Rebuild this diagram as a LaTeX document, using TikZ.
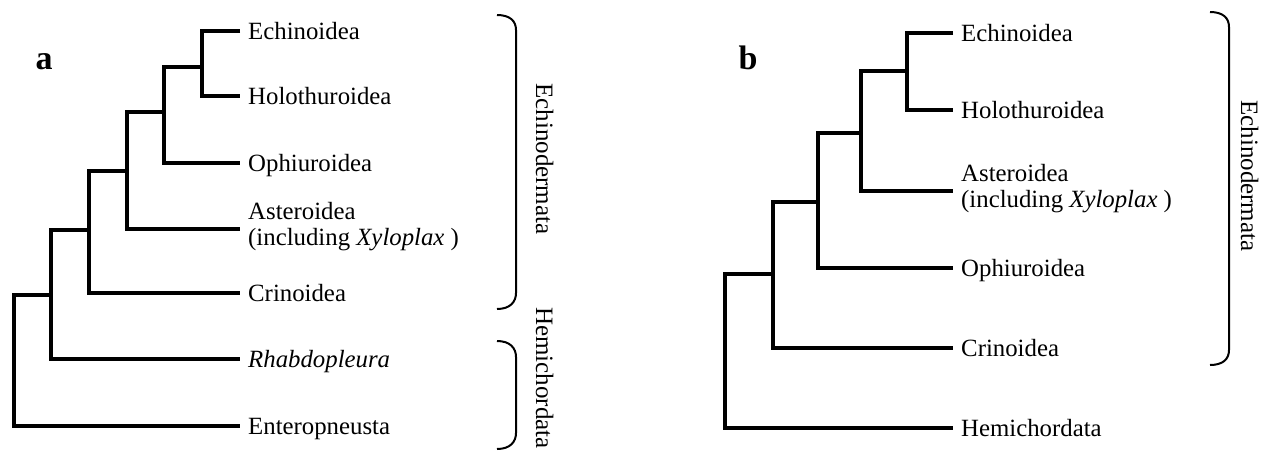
\documentclass[tikz,border=0pt]{standalone}
\usepackage{fontspec}
\setmainfont{Liberation Serif}
\begin{document}
\begin{tikzpicture}[x=1pt,y=-1pt,
  branch/.style={line width=4.5pt, line join=miter, line cap=butt},
  taxon/.style={anchor=base west, inner sep=0pt, align=left,
    font=\fontsize{24.8}{25.5}\selectfont, xshift=8pt, yshift=-8pt},
  panel/.style={inner sep=0pt, font=\fontsize{34}{34}\selectfont\bfseries},
  bracket/.style={line width=2pt},
  clade/.style={rotate=-90, anchor=base west, inner sep=0pt,
    font=\fontsize{25}{25}\selectfont}]
\useasboundingbox (0,0) rectangle (1266,464);

% ---------------- tree a ----------------
\coordinate (aR) at (14,360);
\coordinate (a2) at (51,295);
\coordinate (a3) at (89,230);
\coordinate (a4) at (127,171);
\coordinate (a5) at (164,112);
\coordinate (a6) at (202,67);
\coordinate (aEc) at (240,31);
\coordinate (aHo) at (240,96);
\coordinate (aOp) at (240,163);
\coordinate (aAs) at (240,229);
\coordinate (aCr) at (240,293);
\coordinate (aRh) at (240,359);
\coordinate (aEn) at (240,426);

\draw[branch] (aEc) -| (a6) |- (aHo);
\draw[branch] (a6) -| (a5) |- (aOp);
\draw[branch] (a5) -| (a4) |- (aAs);
\draw[branch] (a4) -| (a3) |- (aCr);
\draw[branch] (a3) -| (a2) |- (aRh);
\draw[branch] (a2) -| (aR) |- (aEn);

\node[taxon] (laEc) at (aEc) {Echinoidea};
\node[taxon] (laHo) at (aHo) {Holothuroidea};
\node[taxon] (laOp) at (aOp) {Ophiuroidea};
% the base of a two-line node is the baseline of its last line
\node[taxon, yshift=-8pt] (laAs) at (aAs) {Asteroidea\\(including \textit{Xyloplax} )};
\node[taxon] (laCr) at (aCr) {Crinoidea};
\node[taxon] (laRh) at (aRh) {\textit{Rhabdopleura}};
\node[taxon] (laEn) at (aEn) {Enteropneusta};

\node[panel] (pa) at (44,62) {a};

% brackets and clade names of tree a
\draw[bracket] (497,15) .. controls (510,15) and (516,21) .. (516,30)
  -- (516,293) .. controls (516,302) and (510,309) .. (497,309);
\draw[bracket] (497,341) .. controls (510,341) and (516,348) .. (516,357)
  -- (516,433) .. controls (516,442) and (510,449) .. (497,449);
\node[clade] (caE) at (536,83) {Echinodermata};
\node[clade] (caH) at (536,307) {Hemichordata};

% ---------------- tree b ----------------
\coordinate (bR) at (725,350);
\coordinate (b2) at (773,274);
\coordinate (b3) at (818,202);
\coordinate (b4) at (861,133);
\coordinate (b5) at (907,71);
\coordinate (bEc) at (953,33);
\coordinate (bHo) at (953,110);
\coordinate (bAs) at (953,191);
\coordinate (bOp) at (953,268);
\coordinate (bCr) at (953,348);
\coordinate (bHe) at (953,428);

\draw[branch] (bEc) -| (b5) |- (bHo);
\draw[branch] (b5) -| (b4) |- (bAs);
\draw[branch] (b4) -| (b3) |- (bOp);
\draw[branch] (b3) -| (b2) |- (bCr);
\draw[branch] (b2) -| (bR) |- (bHe);

\node[taxon] (lbEc) at (bEc) {Echinoidea};
\node[taxon] (lbHo) at (bHo) {Holothuroidea};
\node[taxon, yshift=-8pt] (lbAs) at (bAs) {Asteroidea\\(including \textit{Xyloplax} )};
\node[taxon] (lbOp) at (bOp) {Ophiuroidea};
\node[taxon] (lbCr) at (bCr) {Crinoidea};
\node[taxon] (lbHe) at (bHe) {Hemichordata};

\node[panel] (pb) at (748,58) {b};

% bracket and clade name of tree b
\draw[bracket] (1210,12) .. controls (1223,12) and (1229,18) .. (1229,27)
  -- (1229,350) .. controls (1229,359) and (1223,365) .. (1210,365);
\node[clade] (cbE) at (1241,100) {Echinodermata};
\end{tikzpicture}
\end{document}
